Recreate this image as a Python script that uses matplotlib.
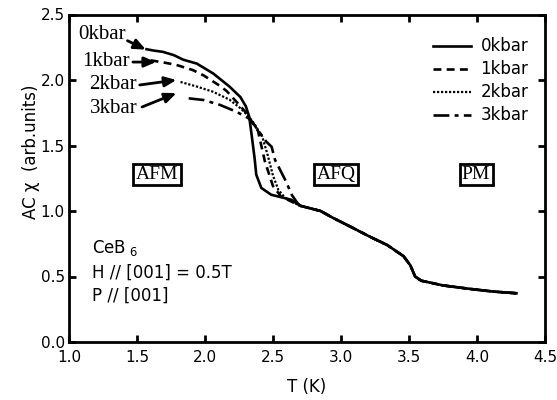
import matplotlib
matplotlib.use('Agg')
import matplotlib.pyplot as plt

# readings: T (K), AC chi (arb. units)
t_0kbar = [1.57, 1.62, 1.69, 1.77, 1.84, 1.94, 2.06, 2.18, 2.26, 2.30, 2.325, 2.343, 2.365, 2.377, 2.414, 2.487, 2.634]
chi_0kbar = [2.235, 2.225, 2.215, 2.19, 2.155, 2.125, 2.05, 1.95, 1.87, 1.80, 1.72, 1.58, 1.40, 1.277, 1.176, 1.124, 1.086]

t_1kbar = [1.60, 1.69, 1.79, 1.91, 1.99, 2.11, 2.16, 2.23, 2.29, 2.34, 2.39, 2.44, 2.50, 2.56, 2.64]
chi_1kbar = [2.15, 2.135, 2.115, 2.076, 2.035, 1.955, 1.915, 1.835, 1.765, 1.69, 1.61, 1.38, 1.19, 1.11, 1.07]

t_2kbar = [1.82, 1.94, 2.06, 2.18, 2.26, 2.31, 2.36, 2.42, 2.46, 2.50, 2.54, 2.59, 2.66]
chi_2kbar = [1.985, 1.95, 1.91, 1.85, 1.785, 1.735, 1.67, 1.57, 1.43, 1.27, 1.16, 1.10, 1.06]

t_3kbar = [1.88, 1.99, 2.11, 2.23, 2.32, 2.36, 2.45, 2.49, 2.515, 2.59, 2.64, 2.68]
chi_3kbar = [1.86, 1.847, 1.81, 1.758, 1.708, 1.66, 1.53, 1.49, 1.39, 1.237, 1.12, 1.06]

# all four curves lie on top of each other above ~2.7 K
t_tail = [2.70, 2.85, 2.94, 3.07, 3.21, 3.34, 3.46, 3.51, 3.545, 3.59, 3.75, 3.95, 4.12, 4.29]
chi_tail = [1.04, 1.0, 0.948, 0.88, 0.805, 0.74, 0.655, 0.585, 0.50, 0.468, 0.432, 0.405, 0.385, 0.372]

labels = ['0kbar', '1kbar', '2kbar', '3kbar']
styles = ['-', (0, (3, 2)), (0, (1, 0.8)), (0, (6, 2, 1.5, 2))]
widths = [1.9, 1.9, 1.6, 1.9]

# arrow labels: text position, arrow start, arrow tip
arrow_text = [(1.246, 2.344), (1.272, 2.141), (1.32, 1.962), (1.331, 1.782)]
arrow_start = [(1.43, 2.30), (1.47, 2.137), (1.52, 1.962), (1.537, 1.794)]
arrow_tip = [(1.565, 2.232), (1.64, 2.137), (1.79, 2.0), (1.79, 1.90)]

phases = ['AFM', 'AFQ', 'PM']
phase_t = [1.647, 2.963, 3.993]
phase_chi = 1.279

fig = plt.figure(figsize=(5.57, 4.0), dpi=100)
ax = fig.add_axes([69 / 557, 58 / 400, 476 / 557, 327.5 / 400])

series_t = [t_0kbar, t_1kbar, t_2kbar, t_3kbar]
series_chi = [chi_0kbar, chi_1kbar, chi_2kbar, chi_3kbar]
for t, c, lab, ls, lw in zip(series_t, series_chi, labels, styles, widths):
    ax.plot(t + t_tail, c + chi_tail, color='black', linestyle=ls, linewidth=lw, label=lab)

for lab, tx, st, tp in zip(labels, arrow_text, arrow_start, arrow_tip):
    ax.text(tx[0], tx[1], lab, family='Liberation Serif', fontsize=15,
            ha='center', va='center')
    ax.annotate('', xy=tp, xytext=st,
                arrowprops=dict(arrowstyle='-|>,head_length=0.7,head_width=0.3',
                                color='black', lw=2, shrinkA=0, shrinkB=0))

for name, t in zip(phases, phase_t):
    ax.text(t, phase_chi, name, family='Liberation Serif', fontsize=14,
            ha='center', va='center',
            bbox=dict(boxstyle='square,pad=0.12', facecolor='white',
                      edgecolor='black', linewidth=2))

ax.text(1.17, 0.72, 'CeB$_{\\ 6}$', fontsize=12, ha='left', va='center')
ax.text(1.17, 0.53, 'H // [001] = 0.5T', fontsize=12, ha='left', va='center')
ax.text(1.17, 0.35, 'P // [001]', fontsize=12, ha='left', va='center')

ax.set_xlim(1.0, 4.5)
ax.set_ylim(0.0, 2.5)
ax.set_xticks([1.0, 1.5, 2.0, 2.5, 3.0, 3.5, 4.0, 4.5])
ax.set_yticks([0.0, 0.5, 1.0, 1.5, 2.0, 2.5])
ax.xaxis.set_major_formatter(matplotlib.ticker.FormatStrFormatter('%.1f'))
ax.yaxis.set_major_formatter(matplotlib.ticker.FormatStrFormatter('%.1f'))
ax.tick_params(direction='in', length=5, width=2, labelsize=11,
               top=True, right=True)
ax.tick_params(axis='x', pad=6)
ax.tick_params(axis='y', pad=3)
for sp in ax.spines.values():
    sp.set_linewidth(2)

ax.set_xlabel('T (K)', fontsize=12, labelpad=9)
ax.set_ylabel('AC χ  (arb.units)', fontsize=12, va='center')
ax.yaxis.set_label_coords(-0.08, 0.58)

ax.legend(loc='upper right', bbox_to_anchor=(0.965, 0.93), frameon=False,
          fontsize=12, handlelength=2.3, handletextpad=0.55,
          labelspacing=0.3, borderpad=0, borderaxespad=0)

fig.savefig('out.png', dpi=100)
